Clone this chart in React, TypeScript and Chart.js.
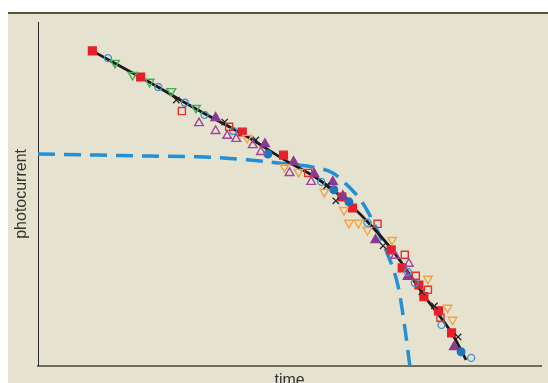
import React, { useEffect, useRef } from "react";
import { Chart, registerables } from "chart.js";

Chart.register(...registerables);

// Fitted curve through the measurements (time, photocurrent)
const fitX = [1.08, 2.2, 3.18, 4.16, 4.9, 5.53, 6.06, 6.55, 7.04, 7.69, 8.22, 8.51];
const fitY = [9.16, 8.26, 7.44, 6.66, 5.99, 5.47, 4.88, 4.19, 3.37, 2.01, 0.96, 0.17];

// Dashed model curve
const modelX = [0, 1.22, 2.2, 3.18, 4.16, 4.94, 5.53, 5.86, 6.12, 6.45, 6.71, 6.94, 7.16, 7.29, 7.39];
const modelY = [6.16, 6.13, 6.1, 6.08, 5.99, 5.87, 5.76, 5.61, 5.29, 4.74, 4.04, 3.28, 2.3, 1.13, 0.0];

// Measurement series
const redSqX = [1.08, 2.04, 4.06, 4.88, 6.04, 6.25, 7.02, 7.24, 7.57, 7.67, 7.96, 8.22];
const redSqY = [9.16, 8.4, 6.8, 6.13, 4.91, 4.59, 3.37, 2.85, 2.35, 2.01, 1.6, 0.96];

const blueCircX = [1.39, 2.39, 2.92, 3.31, 3.88, 5.63, 6.55, 7.35, 7.49, 8.02, 8.61];
const blueCircY = [8.95, 8.11, 7.65, 7.3, 6.83, 5.35, 4.16, 2.73, 2.41, 1.19, 0.23];

const greenTriX = [1.53, 1.88, 2.22, 2.65, 3.14];
const greenTriY = [8.81, 8.46, 8.26, 7.99, 7.5];

const crossX = [2.75, 3.71, 4.33, 5.73, 5.92, 6.86, 7.63, 7.88, 8.35];
const crossY = [7.73, 7.09, 6.57, 5.23, 4.8, 3.49, 2.15, 1.74, 0.84];

const openSqX = [2.86, 3.8, 5.37, 6.75, 7.29, 7.51, 7.75, 8.0];
const openSqY = [7.41, 6.95, 5.61, 4.13, 3.23, 2.62, 2.21, 1.4];

const purpOpenX = [3.2, 3.53, 3.76, 3.94, 4.27, 4.43, 5.0, 5.43, 7.1, 7.37];
const purpOpenY = [7.06, 6.83, 6.69, 6.6, 6.42, 6.22, 5.61, 5.35, 3.2, 2.97];

const purpFillX = [3.53, 4.51, 5.08, 5.49, 5.86, 6.06, 6.71, 7.35, 8.27];
const purpFillY = [7.21, 6.45, 5.93, 5.58, 5.35, 4.94, 3.66, 2.59, 0.55];

const orangeTriX = [4.16, 4.9, 5.18, 5.69, 6.08, 6.18, 6.37, 6.55, 7.04, 7.75, 8.14, 8.24];
const orangeTriY = [6.63, 5.78, 5.64, 5.06, 4.53, 4.16, 4.16, 3.95, 3.66, 2.53, 1.69, 1.34];

const blueFillX = [4.57, 5.88, 6.18, 8.41];
const blueFillY = [6.16, 5.12, 4.77, 0.41];

const xTitle = "time";
const yTitle = "photocurrent";

const pts = (xs: number[], ys: number[]) => xs.map((x, i) => ({ x, y: ys[i] }));

export default function App() {
  const ref = useRef<HTMLCanvasElement | null>(null);

  useEffect(() => {
    if (!ref.current) return;
    const marker = (
      label: string,
      xs: number[],
      ys: number[],
      style: any,
      stroke: string,
      fill: string,
      radius: number,
      rotation = 0,
      bw = 1.4
    ) => ({
      label,
      data: pts(xs, ys),
      showLine: false,
      pointStyle: style,
      pointRadius: radius,
      pointRotation: rotation,
      pointBorderColor: stroke,
      pointBackgroundColor: fill,
      pointBorderWidth: bw,
      order: 1,
    });

    const chart = new Chart(ref.current, {
      type: "scatter",
      data: {
        datasets: [
          {
            label: "model",
            data: pts(modelX, modelY),
            showLine: true,
            borderColor: "#2290d6",
            borderWidth: 3.5,
            borderDash: [17, 9],
            pointRadius: 0,
            cubicInterpolationMode: "monotone",
            order: 3,
          } as any,
          {
            label: "fit",
            data: pts(fitX, fitY),
            showLine: true,
            borderColor: "#1a1a1a",
            borderWidth: 2.8,
            pointRadius: 0,
            cubicInterpolationMode: "monotone",
            order: 2,
          } as any,
          marker("orange", orangeTriX, orangeTriY, "triangle", "#f2a444", "rgba(0,0,0,0)", 5, 180),
          marker("purpleOpen", purpOpenX, purpOpenY, "triangle", "#a2459a", "rgba(0,0,0,0)", 5),
          marker("openSq", openSqX, openSqY, "rect", "#e2342c", "rgba(0,0,0,0)", 5),
          marker("green", greenTriX, greenTriY, "triangle", "#45ad5c", "rgba(0,0,0,0)", 5, 180),
          marker("blueCirc", blueCircX, blueCircY, "circle", "#3f96cc", "rgba(0,0,0,0)", 3.5),
          marker("cross", crossX, crossY, "crossRot", "#222222", "#222222", 4.5, 0, 1.3),
          marker("purpleFill", purpFillX, purpFillY, "triangle", "#8b3993", "#8b3993", 5.2),
          marker("blueFill", blueFillX, blueFillY, "circle", "#1d76bf", "#1d76bf", 3.8),
          marker("redSq", redSqX, redSqY, "rect", "#e61f2a", "#e61f2a", 5.5),
        ] as any,
      },
      options: {
        animation: false,
        responsive: false,
        layout: { padding: { left: 0, top: 8, right: 0, bottom: 0 } },
        plugins: { legend: { display: false }, tooltip: { enabled: false } },
        scales: {
          x: {
            type: "linear",
            min: 0,
            max: 10,
            grid: { display: false, drawTicks: false },
            ticks: { display: false },
            border: { display: true, color: "#6f6d5b", width: 2 },
            title: {
              display: true,
              text: xTitle,
              color: "#333333",
              font: { family: "Liberation Sans", size: 16 },
              padding: { top: 5, bottom: 0 },
            },
          },
          y: {
            type: "linear",
            min: 0,
            max: 10,
            grid: { display: false, drawTicks: false },
            ticks: { display: false },
            border: { display: true, color: "#2a2a2a", width: 1 },
            title: {
              display: true,
              text: yTitle,
              color: "#333333",
              font: { family: "Liberation Sans", size: 16 },
              padding: { top: 4.4, bottom: 6.4 },
            },
          },
        },
      },
    });
    return () => chart.destroy();
  }, []);

  return (
    <div
      style={{
        position: "absolute",
        left: 8,
        top: 12,
        width: 540,
        height: 371,
        overflow: "hidden",
        background: "#e5e3cf",
        borderTop: "2px solid #5d5634",
        boxSizing: "border-box",
      }}
    >
      <canvas ref={ref} width={540} height={376} style={{ display: "block" }} />
    </div>
  );
}
